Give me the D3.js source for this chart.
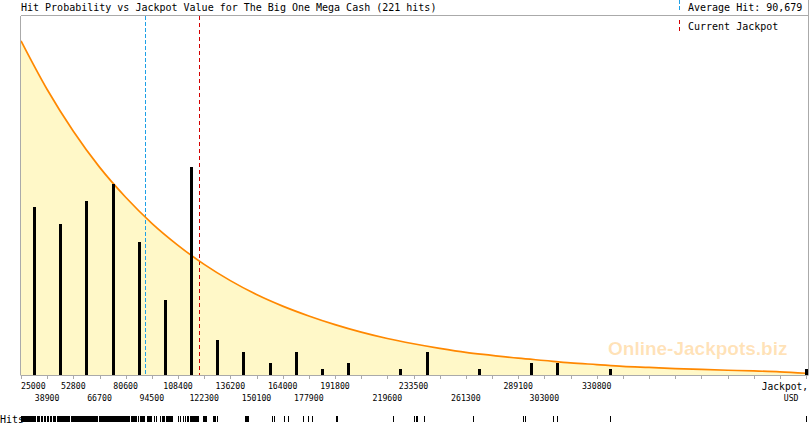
<!DOCTYPE html>
<html><head><meta charset="utf-8">
<script src="https://cdn.jsdelivr.net/npm/d3@7/dist/d3.min.js"></script>
<style>
html,body{margin:0;padding:0;background:#fff;}
svg{display:block;}
text{font-family:"DejaVu Sans Mono",monospace;}
</style></head>
<body>
<svg id="chart" width="810" height="425"></svg>
<script>
// ---- data ----
const title = "Hit Probability vs Jackpot Value for The Big One Mega Cash (221 hits)";
const avgHit = 90679;
const avgLabel = "Average Hit: 90,679";
const currentJackpot = 119700;
const currentLabel = "Current Jackpot";
const tickValues = [25000, 38900, 52800, 66700, 80600, 94500, 108400, 122300, 136200, 150100,
  164000, 177900, 191800, 205700, 219600, 233500, 247400, 261300, 275200, 289100, 303000,
  316900, 330800, 344700, 358600, 372500, 386400, 400300, 414200, 428100, 442000];
const labeledTicks = [25000, 38900, 52800, 66700, 80600, 94500, 108400, 122300, 136200, 150100,
  164000, 177900, 191800, 219600, 233500, 261300, 289100, 303000, 330800];
const binCenters = [31950, 45850, 59750, 73650, 87550, 101450, 115350, 129250, 143150, 157050,
  170950, 184850, 198750, 226550, 240450, 268250, 296050, 309950, 337750, 442000];
const binHits = [29, 26, 30, 33, 23, 13, 36, 6, 4, 2, 4, 1, 2, 1, 4, 1, 2, 2, 1, 1];
// probability curve (expected hits per bin) read at each tick value
const curveValues = [57.7, 49.3, 42.1, 35.9, 30.7, 26.2, 22.4, 19.1, 16.3, 13.9, 11.9, 10.2,
  8.7, 7.4, 6.3, 5.4, 4.6, 3.9, 3.4, 2.9, 2.5, 2.1, 1.8, 1.5, 1.3, 1.1, 0.96, 0.82, 0.7, 0.55, 0.3];
// individual hits (jackpot value at hit)
const hitValues = [
  25100, 25400, 25900, 26300, 26800, 27100, 27700, 28200, 28500, 28900, 29300, 29800, 30400, 31000, 31200,
  31800, 32400, 32700, 33300, 33900, 34200, 34800, 35500, 36000, 36400, 37000, 37300, 37900, 38600,
  39200, 39600, 40300, 40700, 41100, 41800, 42200, 42600, 43300, 43900, 44100, 44800, 45400, 45700, 46300,
  46900, 47200, 47800, 48500, 49000, 49600, 50100, 50700, 51300, 51900, 52400,
  53000, 53400, 53800, 54100, 54600, 55000, 55500, 55900, 56200, 56800, 57100, 57500, 58000, 58400, 58900,
  59300, 59700, 60200, 60600, 61000, 61500, 62000, 62300, 62900, 63400, 63800, 64300, 64900, 65600, 66200,
  66900, 67200, 67500, 67900, 68200, 68600, 69000, 69300, 69700, 70100, 70400, 70800, 71200, 71500, 71900,
  72300, 72700, 73100, 73400, 73800, 74300, 74700, 75100, 75600, 76000, 76500, 77000, 77500, 78100, 78700,
  79200, 79800, 80400,
  80900, 81500, 82000, 82600, 83300, 83800, 84500, 85100, 85600, 86200, 86900, 87400, 88000, 88700, 89300,
  89900, 90600, 91800, 92300, 92800, 93300, 93800, 94300,
  95800, 96500, 98900, 99700, 100400, 101200, 101900, 102500, 103200, 103800, 104100, 104800, 105300,
  108600, 108600, 109400, 111300, 112000, 113100, 113800, 114900, 115300, 115800, 116200, 116600, 117100,
  117500, 117900, 118300, 118700, 119000, 119100, 119200, 115000, 115500, 116000, 116400, 116800, 117300,
  117700, 118100, 118500, 118900, 119200, 119200, 121800, 121900, 122000, 122200,
  122600, 123400, 127200, 127600, 128000, 128900,
  144000, 144500, 145200, 145700,
  158200, 159400,
  164700, 166800, 174600, 177600,
  179400,
  192100, 192900,
  222800,
  233900, 234600, 235200, 239200,
  265300,
  291800, 292700,
  307800, 309600,
  337900,
  442000];

// ---- layout ----
const plotLeft = 20.5, plotRight = 808.5, plotTop = 16, baseY = 375;
const svg = d3.select("#chart");

const x = d3.scaleLinear().domain([25000, 442000]).range([21, 806]);
const y = d3.scaleLinear().domain([0, 62]).range([baseY, plotTop]);

const blue = "rgb(30,160,230)", red = "rgb(210,0,0)";

// title
svg.append("text").attr("x", 21).attr("y", 11).attr("font-size", 10).attr("fill", "#000").text(title);

// area under curve
const pts = tickValues.map((v, i) => [v, curveValues[i]]);
svg.append("path")
  .datum(pts)
  .attr("d", d3.area().x(d => x(d[0])).y0(baseY).y1(d => y(d[1])).curve(d3.curveMonotoneX))
  .attr("fill", "#fff8c8");

// average hit & current jackpot lines (drawn as dashed rects for crisp colour)
function dashedV(xv, y0, y1, on, off, color) {
  const segs = d3.range(y0, y1, on + off);
  svg.append("g").selectAll("rect").data(segs).join("rect")
    .attr("x", Math.round(xv)).attr("width", 1)
    .attr("y", d => d).attr("height", d => Math.min(on, y1 - d))
    .attr("fill", color).attr("shape-rendering", "crispEdges");
}
dashedV(x(avgHit), plotTop, baseY, 4, 2, blue);
dashedV(x(currentJackpot), plotTop, baseY, 4, 3, red);

// curve line
svg.append("path")
  .datum(pts)
  .attr("d", d3.line().x(d => x(d[0])).y(d => y(d[1])).curve(d3.curveMonotoneX))
  .attr("fill", "none").attr("stroke", "#ff8800").attr("stroke-width", 1.7);

// bars
svg.append("g").selectAll("rect")
  .data(binCenters.map((c, i) => ({c, h: binHits[i]})))
  .join("rect")
  .attr("x", d => Math.round(x(d.c)) - 1.5)
  .attr("width", 3)
  .attr("y", d => y(d.h))
  .attr("height", d => baseY - y(d.h))
  .attr("fill", "#000")
  .attr("shape-rendering", "crispEdges");

// frame lines
const grey = "#aaaaaa";
svg.append("line").attr("x1", plotLeft).attr("x2", plotRight).attr("y1", plotTop - 0.5).attr("y2", plotTop - 0.5)
  .attr("stroke", grey).attr("shape-rendering", "crispEdges");
svg.append("line").attr("x1", plotLeft).attr("x2", plotLeft).attr("y1", plotTop - 0.5).attr("y2", baseY)
  .attr("stroke", grey).attr("shape-rendering", "crispEdges");
svg.append("line").attr("x1", plotRight).attr("x2", plotRight).attr("y1", 0).attr("y2", baseY)
  .attr("stroke", grey).attr("shape-rendering", "crispEdges");

// x axis
const axis = d3.axisBottom(x).tickValues(tickValues).tickSize(4).tickSizeOuter(0).tickFormat("");
const gAxis = svg.append("g").attr("transform", `translate(0,${baseY})`).call(axis);
gAxis.select(".domain").attr("stroke", grey).attr("d", `M${plotLeft},0.5H${plotRight}`);
gAxis.selectAll(".tick line").attr("stroke", grey).attr("shape-rendering", "crispEdges");

// tick labels, alternating rows
svg.append("g").selectAll("text")
  .data(labeledTicks)
  .join("text")
  .attr("x", d => x(d))
  .attr("y", (d, i) => i % 2 === 0 ? 388.5 : 400.5)
  .attr("text-anchor", (d, i) => i === 0 ? "start" : "middle")
  .attr("font-size", 8.2)
  .attr("fill", "#000")
  .text(d => d);

svg.append("text").attr("x", 808).attr("y", 389.5).attr("text-anchor", "end")
  .attr("font-size", 9.6).attr("fill", "#000").text("Jackpot,");
svg.append("text").attr("x", 798.5).attr("y", 400.5).attr("text-anchor", "end")
  .attr("font-size", 8.2).attr("fill", "#000").text("USD");

// legend
const lx = 679;
dashedV(lx, 0, 11, 4, 2, blue);
dashedV(lx, 20, 33, 4, 3, red);
svg.append("text").attr("x", 688).attr("y", 11).attr("font-size", 10).attr("fill", "#000").text(avgLabel);
svg.append("text").attr("x", 688).attr("y", 30).attr("font-size", 10).attr("fill", "#000").text(currentLabel);

// watermark
svg.append("text").attr("x", 608).attr("y", 355)
  .style("font-family", "'Liberation Sans', Arial, sans-serif")
  .attr("font-weight", "bold").attr("font-size", 19)
  .attr("fill", "#ff9900").attr("fill-opacity", 0.28)
  .text("Online-Jackpots.biz");

// hits strip
svg.append("text").attr("x", 0).attr("y", 422.5).attr("font-size", 10).attr("fill", "#000").text("Hits");
svg.append("g").selectAll("line")
  .data(hitValues)
  .join("line")
  .attr("x1", d => Math.round(x(d)) + 0.5)
  .attr("x2", d => Math.round(x(d)) + 0.5)
  .attr("y1", 416).attr("y2", 422)
  .attr("stroke", "#000").attr("stroke-width", 1)
  .attr("shape-rendering", "crispEdges");
</script>
</body></html>
